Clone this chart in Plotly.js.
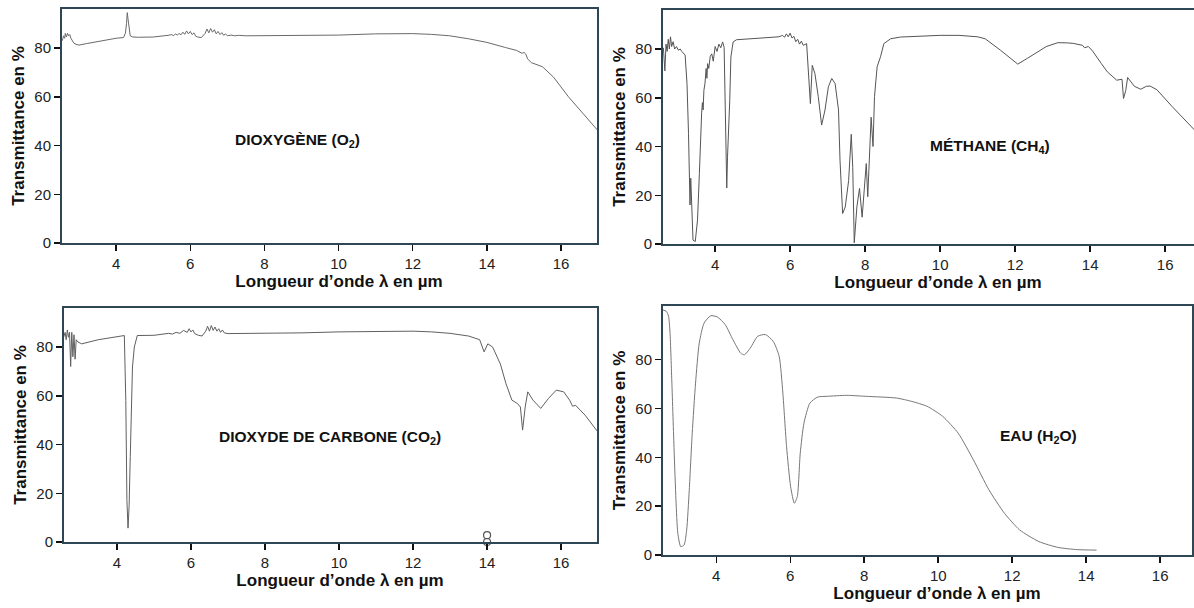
<!DOCTYPE html>
<html>
<head>
<meta charset="utf-8">
<script src="https://cdn.plot.ly/plotly-3.0.1.min.js"></script>
<style>
html,body{margin:0;padding:0;background:#fff;}
#chart{width:1194px;height:608px;}
</style>
</head>
<body>
<div id="chart"></div>
<script>
// ---- Data ----
const xTickValues = [4, 6, 8, 10, 12, 14, 16];
const yTickValues = [0, 20, 40, 60, 80];
const panelLabels = ["DIOXYGÈNE (O<sub>2</sub>)", "MÉTHANE (CH<sub>4</sub>)", "DIOXYDE DE CARBONE (CO<sub>2</sub>)", "EAU (H<sub>2</sub>O)"];
const xAxisTitle = "Longueur d’onde λ en µm";
const yAxisTitle = "Transmittance en %";

// Dioxygène O2
const o2Wavelength = [2.55,2.58,2.61,2.63,2.66,2.69,2.72,2.75,2.78,2.82,
  2.86,2.92,3.0,3.2,3.6,4.0,4.2,4.25,4.28,4.3,
  4.32,4.35,4.38,4.45,4.6,5.0,5.3,5.4,5.5,5.55,
  5.6,5.65,5.7,5.75,5.8,5.85,5.9,5.95,6.0,6.05,
  6.1,6.15,6.2,6.3,6.4,6.45,6.5,6.55,6.6,6.65,
  6.7,6.75,6.8,6.85,6.9,6.95,7.0,7.1,7.2,7.3,
  7.5,8,9,10,11,11.5,12,12.5,13,13.5,
  14,14.5,14.8,14.95,15.0,15.05,15.1,15.2,15.5,15.8,
  16.2,16.6,17.0];
const o2Transmittance = [83,85,84,86,84.5,86,85,85.5,84,83,
  82,81.5,81.2,81.8,83,84,84.3,86,90,94.5,
  92,88,85,84.5,84.4,84.5,84.8,85.2,85.5,85,
  85.8,85.3,86,85.4,86.5,85.6,87,85.8,86.8,85.5,
  86.2,84.8,84.5,84.3,86,87.8,86.2,88,86.5,87.5,
  85.8,86.8,85.5,86.3,85.2,85.8,85,85.3,85,85.2,
  85,85,85,85.3,85.8,86,85.9,85.6,85,83.8,
  82.3,80.2,79,77.8,78.2,77.5,75.5,74,72.3,68,
  60,53,46];

// Méthane CH4
const ch4Wavelength = [2.62,2.66,2.69,2.72,2.75,2.78,2.81,2.84,2.88,2.92,
  2.97,3.02,3.07,3.11,3.2,3.25,3.29,3.31,3.33,3.35,
  3.38,3.41,3.47,3.53,3.58,3.6,3.62,3.64,3.66,3.68,
  3.7,3.73,3.76,3.78,3.8,3.83,3.87,3.91,3.95,4.0,
  4.05,4.1,4.15,4.2,4.24,4.27,4.29,4.31,4.33,4.36,
  4.39,4.42,4.48,4.57,5.0,5.5,5.7,5.8,5.85,5.9,
  5.95,6.0,6.05,6.1,6.15,6.2,6.25,6.3,6.35,6.44,
  6.48,6.54,6.59,6.66,6.75,6.84,6.93,7.02,7.11,7.2,
  7.29,7.33,7.4,7.47,7.56,7.63,7.67,7.71,7.78,7.85,
  7.92,7.98,8.03,8.07,8.12,8.16,8.21,8.25,8.32,8.41,
  8.5,8.68,8.94,9.5,10.0,10.5,11.0,11.2,11.61,12.07,
  12.15,12.33,12.83,13.14,13.4,13.55,13.8,13.85,13.95,14.05,
  14.3,14.46,14.71,14.85,14.89,14.95,15.0,15.18,15.35,15.5,
  15.6,15.78,16.18,16.5,16.8];
const ch4Transmittance = [80.5,71,82,79,84,80,85,81,83,80,
  81,79.5,80,79,77.5,65.8,45.4,29,16,27,
  10,1.6,1,9.8,29,38.5,52,53.7,58,55,
  63,66,72,68,74,72,77,78,75,81,
  79,82,80.5,82.9,80.7,59,34,23,35.6,45,
  59,76.7,82.9,83.8,84.2,84.8,85,85.6,84.8,86.2,
  85,86.5,84.5,85.2,83,84,82,83.2,81.5,82.2,
  72.7,57.6,73.3,70,60.5,48.8,55,64.5,67.9,65.8,
  55,34.4,12.5,15.2,26,45,31.4,0.5,15.2,22.8,
  11,23.5,33,19.4,38.5,52,40,60.5,72.7,76.8,
  82.2,84.2,84.9,85.3,85.6,85.6,85,84.2,79.5,73.8,
  74.5,76.2,81,82.6,82.5,82.3,81.5,80.5,81,79.5,
  74,70.6,67.2,67.6,59.7,63,68.3,64.7,63.5,64.7,
  64.8,63.3,56.5,51.5,46.5];

// Dioxyde de carbone CO2
const co2Wavelength = [2.56,2.6,2.63,2.66,2.69,2.72,2.75,2.78,2.81,2.84,
  2.87,2.9,2.95,3.05,3.5,4.0,4.2,4.24,4.27,4.3,
  4.33,4.36,4.39,4.42,4.47,4.55,5.0,5.3,5.4,5.5,
  5.6,5.7,5.8,5.9,5.95,6.0,6.05,6.1,6.2,6.3,
  6.4,6.45,6.5,6.55,6.6,6.65,6.7,6.75,6.8,6.85,
  6.9,7.0,7.2,7.5,8,9,10,11,12,12.5,
  13,13.5,13.8,13.92,14.02,14.15,14.36,14.51,14.67,14.82,
  14.9,14.96,15.03,15.1,15.24,15.45,15.66,15.87,16.07,16.23,
  16.31,16.39,16.65,16.99];
const co2Transmittance = [84,86,83,87,84,86,72,86,76,85,
  75,83,82,81.3,83,84.3,84.7,58,17,5.7,
  15,35,51,71.8,80,84.7,84.8,85.2,85.6,85.3,
  86,85.6,86.8,86,87.5,86.2,87,85.5,84.8,84.5,
  86.5,88.5,86.5,88.8,86.8,88.2,86.5,87.5,86,87,
  85.8,85.5,85.5,85.5,85.5,85.8,86.2,86.5,86.5,86.2,
  85.6,84.5,83,78,81.3,80,73,65,58.2,56.8,
  55.4,45.9,55.4,61.6,58.2,54.8,58.9,62.3,61.6,58.2,
  55.7,56.1,52,45.2];
const co2MarkWavelength = [14, 14];
const co2MarkTransmittance = [2.8, 0];

// Eau H2O
const h2oWavelength = [2.54,2.65,2.71,2.75,2.8,2.86,2.91,2.96,3.04,3.13,
  3.2,3.27,3.35,3.44,3.54,3.67,3.85,4.03,4.24,4.45,
  4.66,4.76,4.92,5.12,5.33,5.54,5.7,5.8,5.9,6.01,
  6.11,6.19,6.27,6.37,6.53,6.74,7.0,7.52,8.04,8.87,
  9.29,9.7,10.12,10.54,10.95,11.37,11.79,12.2,12.72,13.24,
  13.76,14.28];
const h2oTransmittance = [100.5,99.8,97.8,91,70.4,43,22.6,8.9,3.4,4.1,
  10.3,26.7,49.9,70.4,86.8,95,98,97.5,94.4,88.2,
  82.7,82,84.8,89.6,90.3,87.5,81.4,66.3,44.4,28,
  21.2,23.9,41.7,54,62.2,64.7,65,65.4,65,64.3,
  62.9,60.9,56.8,49.9,39,26.7,17.1,10.3,5.5,3.1,
  2.2,2];

// ---- Chart ----
function curve(x, y, xa, ya, shape, color) {
  return {x: x, y: y, xaxis: xa, yaxis: ya, type: 'scatter', mode: 'lines',
          line: {color: color, width: 1, shape: shape, smoothing: 0.6},
          hoverinfo: 'skip', showlegend: false};
}
const traces = [
  curve(o2Wavelength, o2Transmittance, 'x', 'y', 'linear', '#6a6a6a'),
  curve(ch4Wavelength, ch4Transmittance, 'x2', 'y2', 'linear', '#555'),
  curve(co2Wavelength, co2Transmittance, 'x3', 'y3', 'linear', '#606060'),
  curve(h2oWavelength, h2oTransmittance, 'x4', 'y4', 'spline', '#777'),
  {x: co2MarkWavelength, y: co2MarkTransmittance, xaxis: 'x3', yaxis: 'y3',
   type: 'scatter', mode: 'markers', cliponaxis: false, showlegend: false, hoverinfo: 'skip',
   marker: {symbol: 'circle-open', size: 7, color: '#555', line: {width: 1.2, color: '#555'}}}
];

const W = 1194, H = 608;
function px(a, b) { return [a / W, b / W]; }
function py(top, bottom) { return [(H - bottom) / H, (H - top) / H]; }

const frameColor = '#2f4655';
const tickFont = {family: 'Liberation Sans, Arial, sans-serif', size: 15, color: '#222'};
const titleFont = {family: 'Liberation Sans, Arial, sans-serif', size: 17, color: '#111', weight: 'bold'};

function xAxis(domain, range, anchor) {
  return {domain: domain, range: range, anchor: anchor, tickvals: xTickValues,
    ticks: 'outside', ticklen: 6, tickwidth: 1.5, tickcolor: '#111',
    showline: true, linecolor: frameColor, linewidth: 2, mirror: true,
    showgrid: false, zeroline: false, tickfont: tickFont, fixedrange: true,
    title: {text: '&nbsp;&nbsp;&nbsp;&nbsp;<b>' + xAxisTitle + '</b>', font: titleFont, standoff: 3}};
}
function yAxis(domain, range, anchor) {
  return {domain: domain, range: range, anchor: anchor, tickvals: yTickValues,
    ticks: 'outside', ticklen: 6, tickwidth: 1.5, tickcolor: '#111',
    showline: true, linecolor: frameColor, linewidth: 2, mirror: true,
    showgrid: false, zeroline: false, tickfont: tickFont, fixedrange: true,
    title: {text: '<b>' + yAxisTitle + '</b>', font: titleFont, standoff: 5}};
}

const labelFont = {family: 'Liberation Sans, Arial, sans-serif', size: 15.5, color: '#111'};
function label(text, x, y, xr, yr) {
  return {text: '<b>' + text + '</b>', x: x, y: y, xref: xr, yref: yr, showarrow: false,
          font: labelFont, xanchor: 'center', yanchor: 'middle'};
}

const layout = {
  width: W, height: H,
  margin: {l: 0, r: 0, t: 0, b: 0},
  paper_bgcolor: '#fff', plot_bgcolor: '#fff',
  showlegend: false,
  xaxis: xAxis(px(62, 597), [2.54, 16.97], 'y'),
  yaxis: yAxis(py(9, 243), [0, 96], 'x'),
  xaxis2: xAxis(px(663, 1194), [2.61, 16.77], 'y2'),
  yaxis2: yAxis(py(10, 244), [0, 96], 'x2'),
  xaxis3: xAxis(px(64, 597), [2.57, 16.97], 'y3'),
  yaxis3: yAxis(py(308, 542), [0, 96], 'x3'),
  xaxis4: xAxis(px(663, 1192), [2.56, 16.86], 'y4'),
  yaxis4: yAxis(py(306, 555), [0, 102], 'x4'),
  annotations: [
    label(panelLabels[0], 8.88, 42.2, 'x', 'y'),
    label(panelLabels[1], 11.33, 40.2, 'x2', 'y2'),
    label(panelLabels[2], 9.76, 43, 'x3', 'y3'),
    label(panelLabels[3], 12.71, 48.6, 'x4', 'y4')
  ]
};

Plotly.newPlot('chart', traces, layout, {staticPlot: true, displayModeBar: false});
</script>
</body>
</html>
